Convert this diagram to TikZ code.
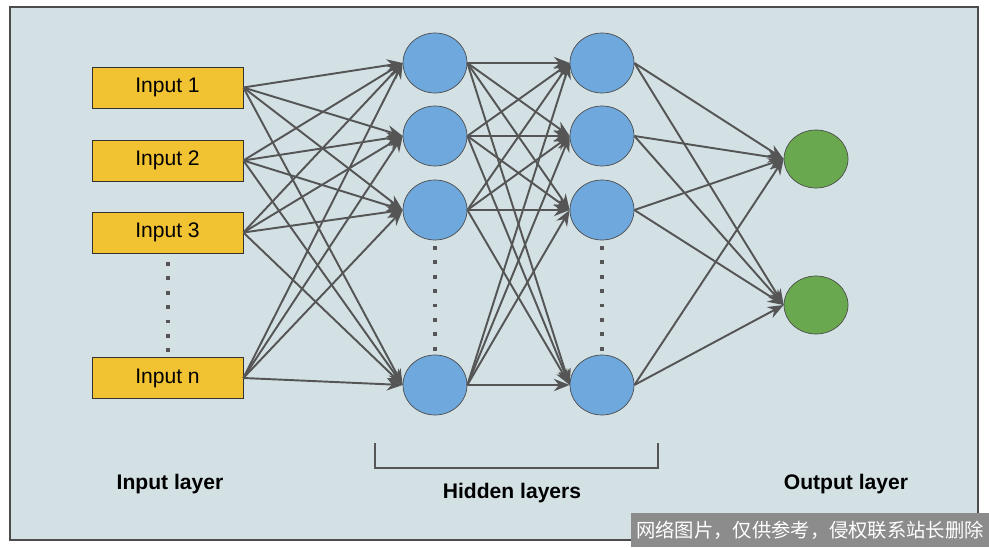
\documentclass[tikz,border=0pt]{standalone}
\usepackage{fontspec}
\setmainfont{Liberation Sans}
\newfontfamily\cjkf{Noto Sans CJK SC}
\usetikzlibrary{arrows.meta,shapes.geometric}
\definecolor{bg}{HTML}{D3E1E4}
\definecolor{inp}{HTML}{F1C232}
\definecolor{hid}{HTML}{6FA8DC}
\definecolor{outc}{HTML}{6AA84F}
\definecolor{edge}{HTML}{555555}
\begin{document}
\begin{tikzpicture}[x=0.02cm,y=-0.02cm,
  box/.style={draw=black!80,fill=inp,minimum width=151*0.02cm,minimum height=41*0.02cm,inner sep=0pt,font=\fontsize{12}{14}\selectfont},
  neur/.style={draw=black!70,fill=hid,ellipse,minimum width=64*0.02cm,minimum height=60*0.02cm,inner sep=0pt},
  onode/.style={neur,fill=outc,minimum height=58*0.02cm},
  conn/.style={draw=edge,line width=1.1pt,-{Stealth[length=9pt,width=7pt]}},
  lab/.style={font=\bfseries\fontsize{12}{14}\selectfont},
  dots/.style={draw=edge,line width=2.2pt,dash pattern=on 2.2pt off 6pt}]
\useasboundingbox (0,0) rectangle (989,547);
\fill[white] (0,0) rectangle (989,547);
\draw[fill=bg,draw=black!70,line width=0.8pt] (10,7) rectangle (978,540);
\node[box] (i1) at (167.5,87.5) {Input 1};
\node[box] (i2) at (167.5,160.5) {Input 2};
\node[box] (i3) at (167.5,232.5) {Input 3};
\node[box] (in) at (167.5,378) {Input n};
\foreach \n/\y in {1/63,2/136,3/210,4/385}{
  \node[neur] (a\n) at (435,\y) {};
  \node[neur] (b\n) at (602,\y) {};
}
\node[onode] (o1) at (816,159) {};
\node[onode] (o2) at (816,305) {};
\foreach \s in {i1,i2,i3,in}{\foreach \t in {a1,a2,a3,a4}{\draw[conn] (\s.east) -- (\t.west);}}
\foreach \s in {a1,a2,a3,a4}{\foreach \t in {b1,b2,b3,b4}{\draw[conn] (\s.east) -- (\t.west);}}
\foreach \s in {b1,b2,b3,b4}{\foreach \t in {o1,o2}{\draw[conn] (\s.east) -- (\t.west);}}
\coordinate (d1a) at (168,262); \coordinate (d1b) at (168,352);
\coordinate (d2a) at (435,246); \coordinate (d2b) at (435,352);
\coordinate (d3a) at (602,246); \coordinate (d3b) at (602,352);
\draw[dots] (d1a) -- (d1b);
\draw[dots] (d2a) -- (d2b);
\draw[dots] (d3a) -- (d3b);
\coordinate (k1) at (375,443); \coordinate (k2) at (375,468);
\coordinate (k3) at (658,468); \coordinate (k4) at (658,443);
\draw[edge,line width=0.8pt] (k1) -- (k2) -- (k3) -- (k4);
\node[lab] (l1) at (170,484) {Input layer};
\node[lab] (l2) at (512,493) {Hidden layers};
\node[lab] (l3) at (846,484) {Output layer};
\node[fill=black!45,text=white,minimum width=358*0.02cm,minimum height=34*0.02cm,inner sep=0pt,font=\cjkf\fontsize{11}{13}\selectfont] (wm) at (810,530) {网络图片，仅供参考，侵权联系站长删除};
\end{tikzpicture}
\end{document}
